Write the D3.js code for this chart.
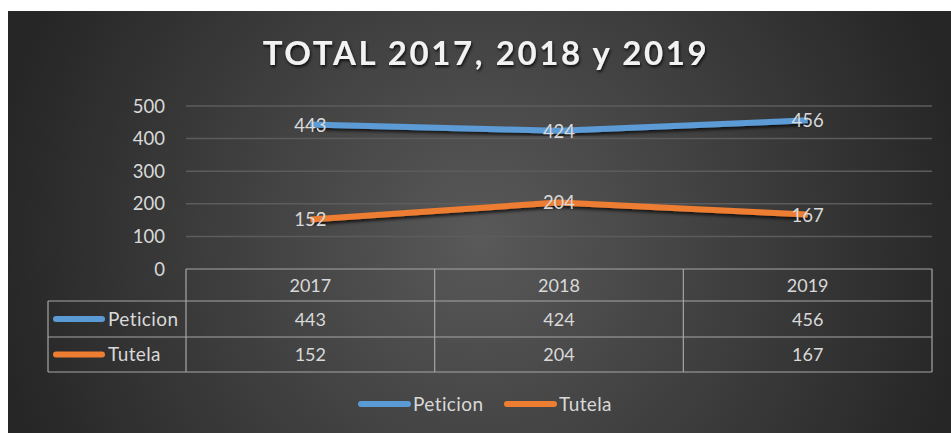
<!DOCTYPE html>
<html>
<head>
<meta charset="utf-8">
<script src="https://cdn.jsdelivr.net/npm/d3@7"></script>
<style>
  body { margin: 0; background: #fff; }
  svg { display: block; font-family: Lato, "Open Sans", sans-serif; }
</style>
</head>
<body>
<svg id="chart"></svg>
<script>
var width = 951, height = 433;

// Data
var years = ["2017", "2018", "2019"];
var peticion = [443, 424, 456];
var tutela = [152, 204, 167];
var seriesNames = ["Peticion", "Tutela"];
var seriesColors = ["#5b9bd5", "#ed7d31"];
var yTicks = [0, 100, 200, 300, 400, 500];

var series = [
  { name: seriesNames[0], color: seriesColors[0], values: peticion },
  { name: seriesNames[1], color: seriesColors[1], values: tutela }
];

var svg = d3.select("#chart").attr("width", width).attr("height", height);
var defs = svg.append("defs");

// Background gradient
var grad = defs.append("radialGradient")
  .attr("id", "bg")
  .attr("gradientUnits", "userSpaceOnUse")
  .attr("cx", 480).attr("cy", 240).attr("r", 490);
grad.append("stop").attr("offset", "0%").attr("stop-color", "#595959");
grad.append("stop").attr("offset", "100%").attr("stop-color", "#262626");

// Shadow for lines and title
var sh = defs.append("filter").attr("id", "shadow")
  .attr("x", "-10%").attr("y", "-50%").attr("width", "120%").attr("height", "200%");
sh.append("feDropShadow").attr("dx", 1.5).attr("dy", 2.5).attr("stdDeviation", 1.8)
  .attr("flood-color", "#000").attr("flood-opacity", 0.7);

var tsh = defs.append("filter").attr("id", "tshadow")
  .attr("x", "-5%").attr("y", "-30%").attr("width", "110%").attr("height", "160%");
tsh.append("feDropShadow").attr("dx", 1).attr("dy", 2).attr("stdDeviation", 1.5)
  .attr("flood-color", "#000").attr("flood-opacity", 0.8);

svg.append("rect")
  .attr("x", 8).attr("y", 11)
  .attr("width", width - 8).attr("height", height - 11)
  .attr("fill", "url(#bg)");

// Title
svg.append("text")
  .attr("x", 486).attr("y", 65)
  .attr("text-anchor", "middle")
  .attr("font-size", "33px")
  .attr("font-weight", "bold")
  .attr("letter-spacing", "2.6px")
  .attr("fill", "#f2f2f2")
  .attr("filter", "url(#tshadow)")
  .text("TOTAL 2017, 2018 y 2019");

// Scales
var xScale = d3.scaleBand().domain(years).range([186, 932]).padding(0);
var yScale = d3.scaleLinear().domain([0, 500]).range([269, 106]);

// Gridlines
svg.selectAll(".grid")
  .data(yTicks.filter(d => d > 0))
  .enter()
  .append("line")
    .attr("x1", 186).attr("x2", 932)
    .attr("y1", d => yScale(d)).attr("y2", d => yScale(d))
    .style("stroke", "#5c5c5c")
    .style("stroke-width", "1.5px");

// Y axis labels
svg.selectAll(".ytick")
  .data(yTicks)
  .enter()
  .append("text")
    .attr("x", 165)
    .attr("y", d => yScale(d) + 6.5)
    .attr("text-anchor", "end")
    .attr("font-size", "18.5px")
    .attr("fill", "#d9d9d9")
    .text(d => d);

// Lines
var line = d3.line()
  .x((d, i) => xScale(years[i]) + xScale.bandwidth() / 2)
  .y(d => yScale(d));

svg.selectAll(".series")
  .data(series)
  .enter()
  .append("path")
    .attr("d", d => line(d.values))
    .attr("fill", "none")
    .attr("stroke", d => d.color)
    .attr("stroke-width", 6)
    .attr("stroke-linejoin", "round")
    .attr("filter", "url(#shadow)");

// Data labels
series.forEach(function(s) {
  svg.selectAll(null)
    .data(s.values)
    .enter()
    .append("text")
      .attr("x", (d, i) => xScale(years[i]) + xScale.bandwidth() / 2)
      .attr("y", d => yScale(d) + 7)
      .attr("text-anchor", "middle")
      .attr("font-size", "18.5px")
      .attr("fill", "#d9d9d9")
      .text(d => d);
});

// Data table
var tableTop = 269, rowH = [32, 36, 35], tableLeft = 48;
var rowY = [tableTop, tableTop + rowH[0], tableTop + rowH[0] + rowH[1], tableTop + rowH[0] + rowH[1] + rowH[2]];
var gridColor = "#a6a6a6";
var tbl = svg.append("g").attr("stroke", gridColor).attr("stroke-width", 1.2);

// horizontal lines
tbl.append("line").attr("x1", 186).attr("x2", 932).attr("y1", rowY[0]).attr("y2", rowY[0]);
[1, 2, 3].forEach(function(r) {
  tbl.append("line").attr("x1", tableLeft).attr("x2", 932).attr("y1", rowY[r]).attr("y2", rowY[r]);
});
// vertical lines
tbl.append("line").attr("x1", tableLeft).attr("x2", tableLeft).attr("y1", rowY[1]).attr("y2", rowY[3]);
var colEdges = years.map(d => xScale(d)).concat([932]);
colEdges.forEach(function(x) {
  tbl.append("line").attr("x1", x).attr("x2", x).attr("y1", rowY[0]).attr("y2", rowY[3]);
});

// header labels
svg.selectAll(".hdr")
  .data(years)
  .enter()
  .append("text")
    .attr("x", d => xScale(d) + xScale.bandwidth() / 2)
    .attr("y", (rowY[0] + rowY[1]) / 2 + 6.5)
    .attr("text-anchor", "middle")
    .attr("font-size", "18px")
    .attr("fill", "#d9d9d9")
    .text(d => d);

series.forEach(function(s, si) {
  var cy = (rowY[si + 1] + rowY[si + 2]) / 2;
  svg.append("line")
    .attr("x1", 56).attr("x2", 102)
    .attr("y1", cy).attr("y2", cy)
    .attr("stroke", s.color)
    .attr("stroke-width", 6)
    .attr("stroke-linecap", "round");
  svg.append("text")
    .attr("x", 108).attr("y", cy + 6.5)
    .attr("font-size", "19px")
    .attr("letter-spacing", "0.4px")
    .attr("fill", "#d9d9d9")
    .text(s.name);
  svg.selectAll(null)
    .data(s.values)
    .enter()
    .append("text")
      .attr("x", (d, i) => xScale(years[i]) + xScale.bandwidth() / 2)
      .attr("y", cy + 6.5)
      .attr("text-anchor", "middle")
      .attr("font-size", "18px")
      .attr("fill", "#d9d9d9")
      .text(d => d);
});

// Legend
var legendX = [361, 507];
series.forEach(function(s, i) {
  svg.append("line")
    .attr("x1", legendX[i]).attr("x2", legendX[i] + 47)
    .attr("y1", 404).attr("y2", 404)
    .attr("stroke", s.color)
    .attr("stroke-width", 6)
    .attr("stroke-linecap", "round");
  svg.append("text")
    .attr("x", legendX[i] + 52).attr("y", 410.5)
    .attr("font-size", "19px")
    .attr("letter-spacing", "0.4px")
    .attr("fill", "#d9d9d9")
    .text(s.name);
});
</script>
</body>
</html>
